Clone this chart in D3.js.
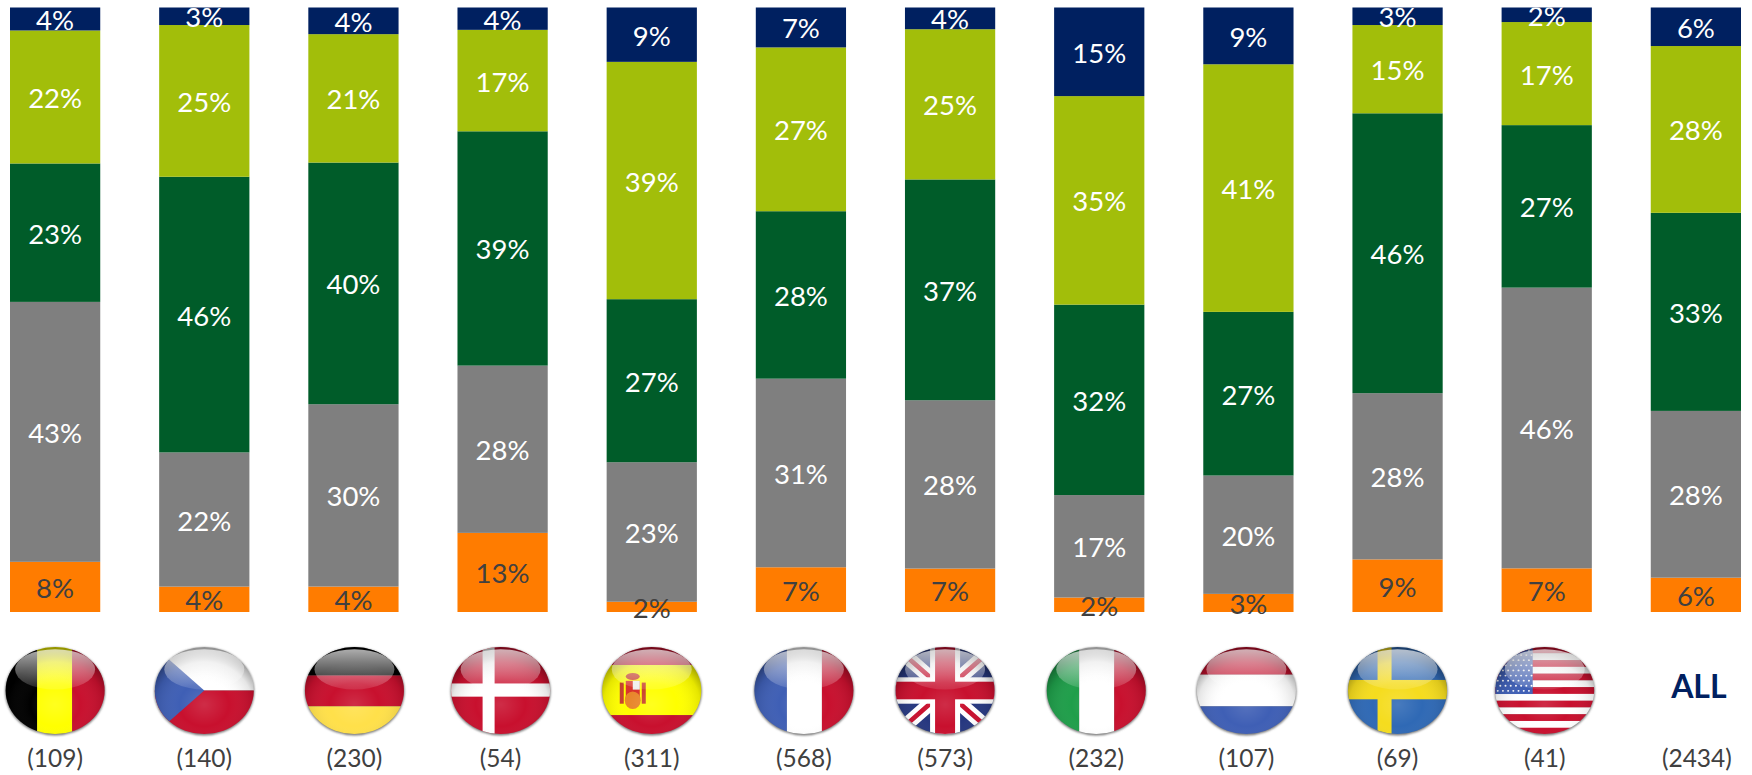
<!DOCTYPE html>
<html><head><meta charset="utf-8">
<style>html,body{margin:0;background:#fff;overflow:hidden}svg{display:block}text{font-family:Lato,"Open Sans",sans-serif}</style>
<script src="https://cdn.jsdelivr.net/npm/d3@7"></script>
</head><body><svg id="c" width="1752" height="775"></svg>
<script>
const countries = ["BE","CZ","DE","DK","ES","FR","GB","IT","NL","SE","US","ALL"];
const sampleLabels = ["(109)","(140)","(230)","(54)","(311)","(568)","(573)","(232)","(107)","(69)","(41)","(2434)"];
const seriesNames = ["orange","gray","dkgreen","lime","navy"];
const orangeVals = [8.3,4.2,4.2,13.1,1.7,7.4,7.2,2.4,3.0,8.7,7.2,5.7];
const grayVals   = [43.0,22.2,30.1,27.7,23.1,31.2,27.9,17.0,19.6,27.5,46.3,27.7];
const greenVals  = [22.9,45.6,39.9,38.8,27.0,27.7,36.6,31.6,27.1,46.3,26.8,32.9];
const limeVals   = [22.0,25.1,21.2,16.8,39.3,27.1,24.9,34.6,41.0,14.6,17.0,27.7];
const navyVals   = [3.8,2.9,4.4,3.7,9.0,6.6,3.6,14.7,9.4,2.9,2.4,6.4];
const colors = ["#FF7C00","#7F7F7F","#005C29","#A2BE0A","#002060"];
const labelColors = ["#404040","#fff","#fff","#fff","#fff"];
const nudge = [0,0,1,-2,0,3,-5,-3,-2,0,-2,1];

const svg = d3.select("#c");
const defs = svg.append("defs");
const x = d3.scaleBand().domain(countries).range([10,1741]).paddingInner(0.395).paddingOuter(0);
const y = d3.scaleLinear().domain([0,1]).range([612,7.5]);
const rows = countries.map((c,i)=>({c,orange:orangeVals[i],gray:grayVals[i],dkgreen:greenVals[i],lime:limeVals[i],navy:navyVals[i]}));
const stack = d3.stack().keys(seriesNames).offset(d3.stackOffsetExpand)(rows);

stack.forEach((s,k)=>{
  svg.append("g").selectAll("rect").data(s).join("rect")
    .attr("x",d=>x(d.data.c)).attr("width",x.bandwidth())
    .attr("y",d=>y(d[1])).attr("height",d=>y(d[0])-y(d[1]))
    .attr("fill",colors[k]);
});
defs.append("clipPath").attr("id","plotTop").append("rect").attr("x",0).attr("y",y(1)).attr("width",1752).attr("height",775);
const labelLayer = svg.append("g").attr("clip-path","url(#plotTop)");
stack.forEach((s,k)=>{
  labelLayer.append("g").selectAll("text").data(s).join("text")
    .attr("x",d=>x(d.data.c)+x.bandwidth()/2)
    .attr("y",d=>(y(d[0])+y(d[1]))/2+11)
    .attr("text-anchor","middle").attr("font-size",27.5)
    .attr("fill",labelColors[k])
    .text(d=>Math.round(d.data[s.key])+"%");
});

const shade = defs.append("radialGradient").attr("id","shade").attr("cx",.5).attr("cy",.66).attr("r",.62);
[[0,"#fff",.12],[.4,"#fff",0],[.78,"#000",.1],[1,"#000",.42]].forEach(a=>shade.append("stop").attr("offset",a[0]).attr("stop-color",a[1]).attr("stop-opacity",a[2]));
const gloss = defs.append("linearGradient").attr("id","gloss").attr("x1",0).attr("x2",0).attr("y1",0).attr("y2",1);
[[0,.68],[1,.1]].forEach(a=>gloss.append("stop").attr("offset",a[0]).attr("stop-color","#fff").attr("stop-opacity",a[1]));
const blur = defs.append("filter").attr("id","sh").attr("x","-20%").attr("y","-20%").attr("width","140%").attr("height","140%");
blur.append("feGaussianBlur").attr("stdDeviation",1.2);

const R=50, W=R*2;
const rect=(g,x0,y0,w,h,f)=>g.append("rect").attr("x",x0).attr("y",y0).attr("width",w).attr("height",h).attr("fill",f);
const vStripes=(g,cs,ws)=>{let p=-R;cs.forEach((c,i)=>{rect(g,p,-R,ws[i]*W,W,c);p+=ws[i]*W;});};
const hStripes=(g,cs,ws)=>{let p=-R;cs.forEach((c,i)=>{rect(g,-R,p,W,ws[i]*W,c);p+=ws[i]*W;});};
const RED="#C8102E", BLUE="#3F5FB5";
const flags={
 BE:g=>vStripes(g,["#000","#FFFF00",RED],[.32,.35,.33]),
 CZ:g=>{hStripes(g,["#fff",RED],[.5,.5]);g.append("path").attr("d",`M${-R},${-R}L0,0L${-R},${R}Z`).attr("fill",BLUE);},
 DE:g=>hStripes(g,["#000",RED,"#FFE04A"],[.33,.35,.32]),
 DK:g=>{rect(g,-R,-R,W,W,RED);rect(g,-18,-R,12,W,"#fff");rect(g,-R,-8,W,15,"#fff");},
 ES:g=>{hStripes(g,[RED,"#FFFF00",RED],[.21,.57,.22]);
   rect(g,-26,-11,14,20,"#D9322A");rect(g,-19,-11,7,10,"#eee");
   rect(g,-32,-9,4,24,"#C8402A");rect(g,-10,-9,4,24,"#C8402A");
   g.append("ellipse").attr("cx",-19).attr("cy",11).attr("rx",8).attr("ry",10).attr("fill","#E8862A");
   g.append("ellipse").attr("cx",-19).attr("cy",-16).attr("rx",7).attr("ry",4).attr("fill","#C8402A");},
 FR:g=>vStripes(g,[BLUE,"#fff",RED],[.33,.35,.32]),
 GB:g=>{rect(g,-R,-R,W,W,"#26377F");
   g.append("path").attr("d",`M${-R},${-R}L${R},${R}M${R},${-R}L${-R},${R}`).attr("stroke","#fff").attr("stroke-width",15);
   g.append("path").attr("d",`M${-R},${-R}L${R},${R}M${R},${-R}L${-R},${R}`).attr("stroke",RED).attr("stroke-width",5);
   rect(g,-R,-15,W,30,"#fff");rect(g,-15,-R,30,W,"#fff");
   rect(g,-R,-10,W,20,RED);rect(g,-10,-R,20,W,RED);},
 IT:g=>vStripes(g,["#1F9E4A","#fff",RED],[.33,.35,.32]),
 NL:g=>hStripes(g,[RED,"#fff",BLUE],[.32,.36,.32]),
 SE:g=>{rect(g,-R,-R,W,W,"#2F69B5");rect(g,-20,-R,14,W,"#F5DC1E");rect(g,-R,-12,W,22,"#F5DC1E");},
 US:g=>{d3.range(13).forEach(i=>rect(g,-R,-R+i*W/13,W,W/13+.3,i%2?"#fff":RED));
   rect(g,-R,-R,W*.38,W*.54,"#3F5FB5");
   d3.range(9).forEach(r=>d3.range(7).forEach(c=>g.append("circle").attr("cx",-R+3+c*5.2+(r%2?2.6:0)).attr("cy",-R+4+r*5.8).attr("r",1).attr("fill","#fff")));}
};
countries.forEach((c,i)=>{
  const cx=x(c)+x.bandwidth()/2+nudge[i], cy=690.5;
  if(c==="ALL"){
    svg.append("text").attr("x",cx+2).attr("y",698).attr("text-anchor","middle")
      .attr("font-size",32).attr("font-weight",700).attr("fill","#002060").text("ALL");
    return;
  }
  const g=svg.append("g").attr("transform",`translate(${cx},${cy}) scale(1,.88)`);
  g.append("circle").attr("r",R).attr("cy",1).attr("fill","#777").attr("filter","url(#sh)");
  const cid="clip"+c;
  defs.append("clipPath").attr("id",cid).append("circle").attr("r",R-.5);
  const f=g.append("g").attr("clip-path",`url(#${cid})`);
  flags[c](f);
  f.append("circle").attr("r",R).attr("fill","url(#shade)");
  g.append("ellipse").attr("cy",-24).attr("rx",40).attr("ry",23).attr("fill","url(#gloss)");
});
svg.append("g").selectAll("text").data(countries).join("text")
  .attr("x",(d,i)=>x(d)+x.bandwidth()/2+nudge[i]).attr("y",767)
  .attr("text-anchor","middle").attr("font-size",24.5).attr("fill","#404040")
  .text((d,i)=>sampleLabels[i]);
</script></body></html>
